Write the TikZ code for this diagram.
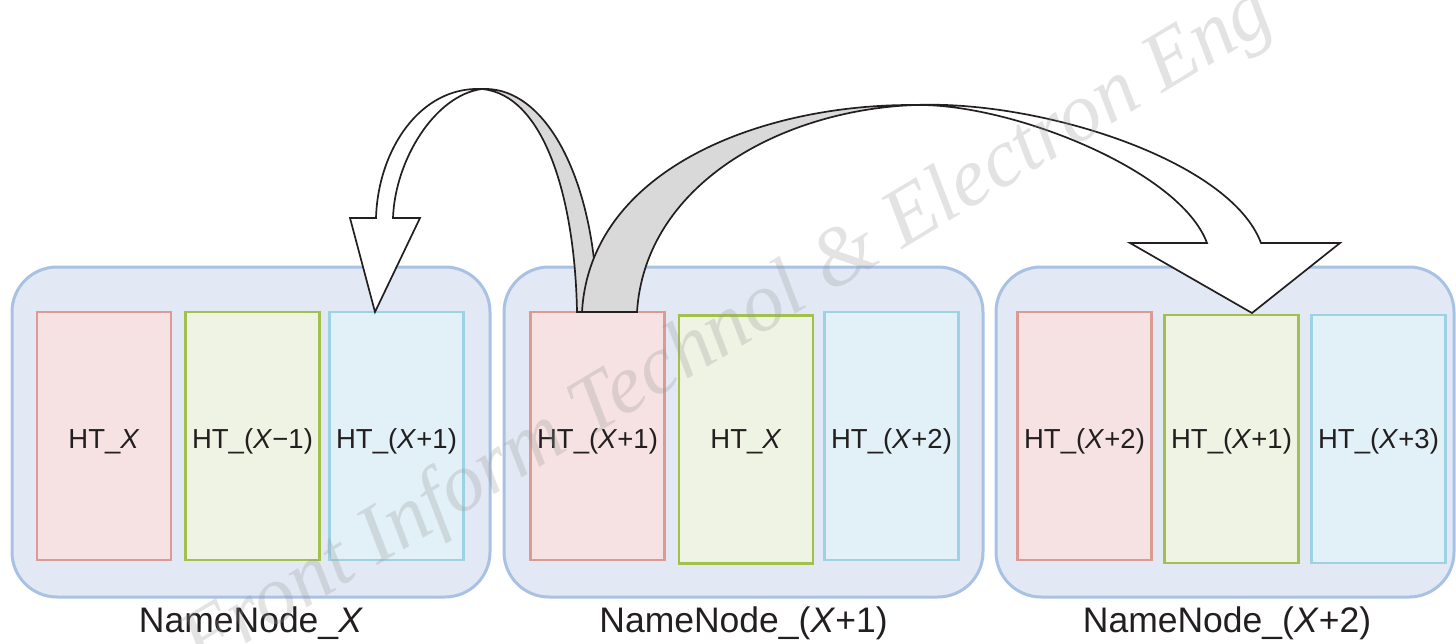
\documentclass[tikz,border=0pt]{standalone}
\usepackage{fontspec}
\setmainfont{Liberation Sans}
\newfontfamily\wmfont{Liberation Serif}
\definecolor{cfill}{HTML}{E3E9F4}
\definecolor{cdraw}{HTML}{A9C1E2}
\definecolor{rfill}{HTML}{F6E2E2}
\definecolor{rdraw}{HTML}{DC9A94}
\definecolor{gfill}{HTML}{EFF3E3}
\definecolor{gdraw}{HTML}{A2C04B}
\definecolor{bfill}{HTML}{E2F1F8}
\definecolor{bdraw}{HTML}{9DD2E2}
\definecolor{txt}{HTML}{231F20}
\definecolor{arrgray}{HTML}{D9D9D9}
\tikzset{
  container/.style={draw=cdraw, fill=cfill, line width=3pt, rounded corners=45pt},
  htbox/.style={line width=2.5pt, minimum width=134pt, minimum height=248pt, inner sep=0pt},
  redbox/.style={htbox, draw=rdraw, fill=rfill},
  greenbox/.style={htbox, draw=gdraw, fill=gfill},
  bluebox/.style={htbox, draw=bdraw, fill=bfill},
  htlabel/.style={anchor=base, inner sep=0pt, text=txt, font=\fontsize{27.5}{32}\selectfont},
  nnlabel/.style={anchor=base, inner sep=0pt, text=txt, font=\fontsize{35.5}{40}\selectfont},
  arrline/.style={draw=txt, line width=1.7pt, line join=miter},
  wmark/.style={anchor=base west, inner sep=0pt, rotate=31, text=black!40, opacity=0.28,
    font=\wmfont\itshape\fontsize{83}{86}\selectfont}
}
\begin{document}
\begin{tikzpicture}[x=1pt,y=-1pt]
\useasboundingbox (0,0) rectangle (1456,643);
\begin{scope}
\clip (0,0) rectangle (1456,643);
% containers
\draw[container] (12,267) rectangle (490,597);
\draw[container] (504,267) rectangle (983,597);
\draw[container] (996,267) rectangle (1454,597);
% NameNode_X
\node[redbox]   (b11) at (104,436) {};
\node[greenbox] (b12) at (252.5,436) {};
\node[bluebox]  (b13) at (396.5,436) {};
\node[htlabel] (t11) at (b11.center |- 0,448) {HT\_\textit{X}};
\node[htlabel] (t12) at (b12.center |- 0,448) {HT\_(\textit{X}−1)};
\node[htlabel] (t13) at (b13.center |- 0,448) {HT\_(\textit{X}+1)};
\node[nnlabel] (n1) at (251,632) {NameNode\_\textit{X}};
% NameNode_(X+1)
\node[redbox]   (b21) at (597.5,436) {};
\node[greenbox] (b22) at (746,439.5) {};
\node[bluebox]  (b23) at (891.5,436) {};
\node[htlabel] (t21) at (b21.center |- 0,448) {HT\_(\textit{X}+1)};
\node[htlabel] (t22) at (b22.center |- 0,448) {HT\_\textit{X}};
\node[htlabel] (t23) at (b23.center |- 0,448) {HT\_(\textit{X}+2)};
\node[nnlabel] (n2) at (743.5,632) {NameNode\_(\textit{X}+1)};
% NameNode_(X+2)
\node[redbox]   (b31) at (1084.5,436) {};
\node[greenbox] (b32) at (1231.5,439) {};
\node[bluebox]  (b33) at (1378.5,439) {};
\node[htlabel] (t31) at (b31.center |- 0,448) {HT\_(\textit{X}+2)};
\node[htlabel] (t32) at (b32.center |- 0,448) {HT\_(\textit{X}+1)};
\node[htlabel] (t33) at (b33.center |- 0,448) {HT\_(\textit{X}+3)};
\node[nnlabel] (n3) at (1227,632) {NameNode\_(\textit{X}+2)};
% arrow tops and tips
\coordinate (TL) at (482,89);
\coordinate (TR) at (915,105);
\coordinate (tipL) at (375,312);
\coordinate (tipR) at (1252,313);
% left arrow: gray back part
\path[arrline, fill=arrgray] (577,312) .. controls (575,200) and (545,95) .. (TL)
   .. controls (550,86) and (597,190) .. (597,312) -- cycle;
% left arrow: white front part with head
\path[arrline, fill=white] (TL) .. controls (420,86) and (378,150) .. (376,218)
   -- (350,218) -- (tipL) -- (420,218) -- (393,218)
   .. controls (395,160) and (435,95) .. (TL) -- cycle;
% right arrow: gray back part
\path[arrline, fill=arrgray] (582,312) .. controls (590,170) and (760,104) .. (TR)
   .. controls (780,110) and (645,185) .. (637,312) -- cycle;
% right arrow: white front part with head
\path[arrline, fill=white] (TR) .. controls (1040,100) and (1230,160) .. (1261,243)
   -- (1340,243) -- (tipR) -- (1130,243) -- (1207,243)
   .. controls (1180,170) and (1010,103) .. (TR) -- cycle;
% watermark
\node[wmark] (wm) at (200,672) {Front Inform Technol \& Electron Eng};
\end{scope}
\end{tikzpicture}
\end{document}
